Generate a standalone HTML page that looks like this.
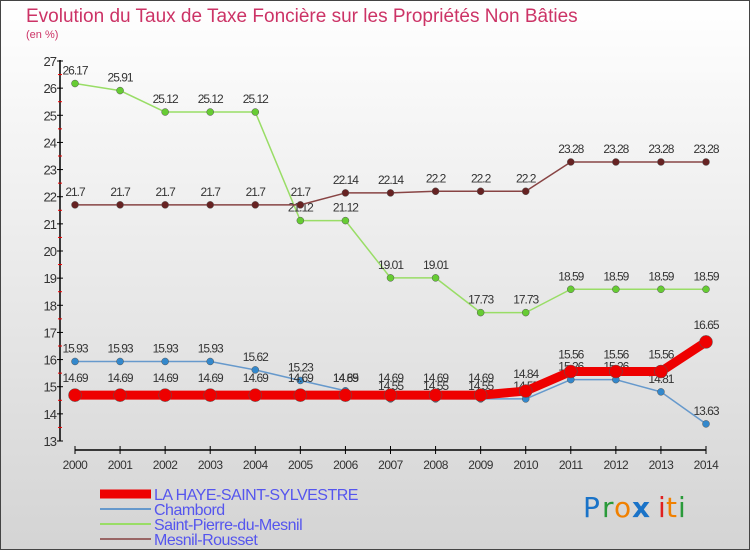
<!DOCTYPE html>
<html><head><meta charset="utf-8"><style>
html,body{margin:0;padding:0}
body{width:750px;height:550px;overflow:hidden;font-family:"Liberation Sans",sans-serif}
</style></head><body>
<svg width="750" height="550" xmlns="http://www.w3.org/2000/svg">
<defs><linearGradient id="bg" x1="0" y1="0" x2="0" y2="1"><stop offset="0" stop-color="#ffffff"/><stop offset="1" stop-color="#d4d4d4"/></linearGradient></defs>
<rect x="0.5" y="0.5" width="749" height="549" fill="url(#bg)" stroke="#444"/>
<text x="26" y="22" font-size="19" fill="#cc3366">Evolution du Taux de Taxe Foncière sur les Propriétés Non Bâties</text>
<text x="26" y="38" font-size="11" fill="#cc3366">(en %)</text>
<g id="axes"></g>
<g id="series"></g>
<g id="legend"></g>
<g font-size="28" font-family="'DejaVu Sans',sans-serif">
<text x="583" y="517" fill="#1a73c8">P</text><text x="602" y="517" fill="#2a9a3a">r</text><text x="614" y="517" fill="#f08000">o</text><text x="632" y="517" fill="#1a73c8" font-weight="bold">x</text><text x="658" y="517" fill="#e02020">i</text><text x="666" y="517" fill="#f08000">t</text><text x="678" y="517" fill="#2a9a3a">i</text>
</g>
</svg>
<script>
const years=[2000,2001,2002,2003,2004,2005,2006,2007,2008,2009,2010,2011,2012,2013,2014];
const yTicks=[13,14,15,16,17,18,19,20,21,22,23,24,25,26,27];
const laHaye=[14.69,14.69,14.69,14.69,14.69,14.69,14.69,14.69,14.69,14.69,14.84,15.56,15.56,15.56,16.65];
const chambord=[15.93,15.93,15.93,15.93,15.62,15.23,14.85,14.55,14.55,14.55,14.55,15.26,15.26,14.81,13.63];
const stPierre=[26.17,25.91,25.12,25.12,25.12,21.12,21.12,19.01,19.01,17.73,17.73,18.59,18.59,18.59,18.59];
const mesnil=[21.7,21.7,21.7,21.7,21.7,21.7,22.14,22.14,22.2,22.2,22.2,23.28,23.28,23.28,23.28];
const seriesNames=["LA HAYE-SAINT-SYLVESTRE","Chambord","Saint-Pierre-du-Mesnil","Mesnil-Rousset"];

const NS="http://www.w3.org/2000/svg";
const x=i=>75+i*(706-75)/(years.length-1);
const y=v=>441-(v-13)*(380/14);
function mk(tag,attrs,parent,txt){const e=document.createElementNS(NS,tag);for(const k in attrs)e.setAttribute(k,attrs[k]);if(txt!==undefined)e.textContent=txt;parent.appendChild(e);return e;}
const axes=document.getElementById('axes');
let a=mk('line',{x1:60,y1:60,x2:60,y2:441,stroke:'#000','stroke-width':1.5},axes);


yTicks.forEach(t=>{
 mk('line',{x1:57,y1:y(t),x2:63,y2:y(t),stroke:'#000'},axes);
 if(t<27)mk('line',{x1:58,y1:y(t+0.5),x2:62,y2:y(t+0.5),stroke:'#e00'},axes);
 const l=mk('text',{x:56,y:y(t)+5,'font-size':13,fill:'#333','text-anchor':'end','letter-spacing':'-1'},axes,t);
 
 
});
let b=mk('line',{x1:75,y1:450,x2:706,y2:450,stroke:'#000','stroke-width':1.5},axes);


years.forEach((yr,i)=>{
 mk('line',{x1:x(i),y1:446,x2:x(i),y2:454,stroke:'#000'},axes);
 const l=mk('text',{x:x(i),y:469,'font-size':12,fill:'#333','text-anchor':'middle','letter-spacing':'-0.5'},axes,yr);
 
 
});
const sg=document.getElementById('series');
function draw(vals,color,w,dot,dotFill,name,lblOff){
 const g=mk('g',{},sg);
 
 
 const p=mk('polyline',{points:vals.map((v,i)=>x(i)+','+y(v)).join(' '),fill:'none',stroke:color,'stroke-width':w,'stroke-linejoin':'round'},g);
 
 
 vals.forEach((v,i)=>{
  const c=mk('circle',{cx:x(i),cy:y(v),r:dot,fill:dotFill,stroke:'#555','stroke-width':0.5},g);
  
  
  const t=mk('text',{x:x(i),y:y(v)-lblOff,'font-size':12,fill:'#333','text-anchor':'middle','letter-spacing':'-1'},g,v);
  
  
 });
}
draw(stPierre,'#99dd66',1.5,3.5,'#66cc33','saint-pierre-series',9);
draw(mesnil,'#884444',1.5,3.5,'#662222','mesnil-series',9);
draw(chambord,'#6699cc',1.5,3.5,'#3388cc','chambord-series',9);
draw(laHaye,'#ee0000',9,6.5,'#ee0000','la-haye-series',13);
const lg=document.getElementById('legend');
const cols=['#ee0000','#6699cc','#99dd66','#996666'];const ws=[9,2,2,2];
seriesNames.forEach((n,i)=>{
 const yy=494+i*15;
 const ln=mk('line',{x1:100,y1:yy,x2:151,y2:yy,stroke:cols[i],'stroke-width':ws[i]},lg);
 
 
 const t=mk('text',{x:154,y:yy+6,'font-size':16,fill:'#5555ee','letter-spacing':'-0.5'},lg,n);
 
 
});
</script>
</body></html>
